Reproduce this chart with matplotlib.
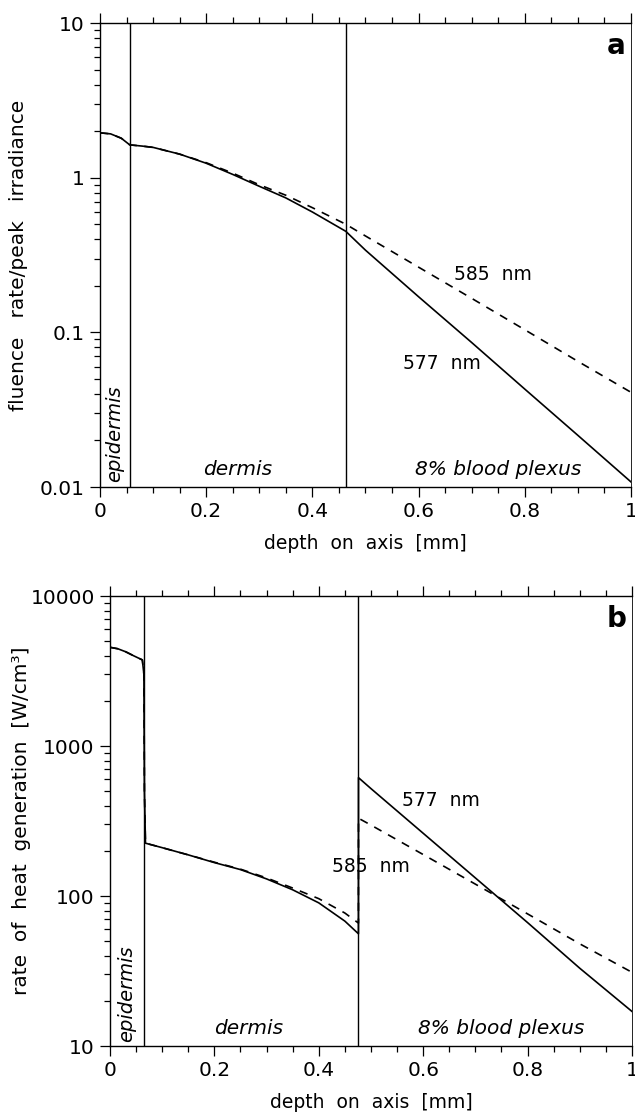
import numpy as np
import matplotlib
matplotlib.use('Agg')
import matplotlib.pyplot as plt
from matplotlib.ticker import MultipleLocator, LogLocator, NullFormatter

plt.rcParams['font.family'] = ['DejaVu Sans']
plt.rcParams['font.size'] = 14

# panel a: fluence rate / peak irradiance
depth_a = [0, 0.02, 0.04, 0.056, 0.08, 0.1, 0.15, 0.2, 0.25, 0.3, 0.35, 0.4, 0.463,
           0.5, 0.6, 0.7, 0.8, 0.9, 1.0]
fluence_577 = [1.95, 1.92, 1.80, 1.63, 1.60, 1.57, 1.42, 1.24, 1.05, 0.88, 0.74, 0.60, 0.45,
               0.34, 0.17, 0.086, 0.043, 0.0216, 0.0108]
fluence_585 = [1.95, 1.92, 1.80, 1.63, 1.60, 1.57, 1.42, 1.25, 1.07, 0.90, 0.77, 0.64, 0.50,
               0.42, 0.264, 0.166, 0.104, 0.065, 0.041]
layers_a = [0.056, 0.463]

# panel b: rate of heat generation
depth_b = [0, 0.015, 0.03, 0.045, 0.062, 0.065, 0.066, 0.068, 0.1, 0.15, 0.2, 0.25, 0.3,
           0.35, 0.4, 0.45, 0.476, 0.4761, 0.5, 0.6, 0.7, 0.8, 0.9, 1.0]
heat_577 = [4550, 4450, 4250, 4000, 3750, 3000, 500, 225, 210, 188, 167, 150, 130,
            110, 90, 68, 56, 615, 520, 262, 132, 66.5, 33, 17]
heat_585 = [4550, 4450, 4250, 4000, 3750, 3000, 500, 225, 210, 188, 168, 151, 132,
            113, 96, 77, 66, 330, 297, 189, 120, 76, 48, 31]
layers_b = [0.066, 0.476]

xticks = [0, 0.2, 0.4, 0.6, 0.8, 1]
xticklabels = ['0', '0.2', '0.4', '0.6', '0.8', '1']

fig = plt.figure(figsize=(6.35, 11.18), dpi=100)
ax1 = fig.add_axes([0.1575, 0.5644, 0.836, 0.415])
ax2 = fig.add_axes([0.1732, 0.0644, 0.822, 0.4025])


def style(ax):
    ax.set_xlim(0, 1)
    ax.set_yscale('log')
    ax.set_xticks(xticks, labels=xticklabels)
    ax.xaxis.set_minor_locator(MultipleLocator(0.05))
    ax.yaxis.set_minor_locator(LogLocator(base=10, subs=np.arange(2, 10)))
    ax.yaxis.set_minor_formatter(NullFormatter())
    ax.tick_params(which='both', direction='out', top=True, right=False, width=0.9)
    ax.tick_params(which='major', length=7, labelsize=14.5, pad=4)
    ax.tick_params(which='minor', length=4)
    ax.set_xlabel('depth  on  axis  [mm]', fontsize=13.5, labelpad=9)
    for s in ax.spines.values():
        s.set_linewidth(1.0)
    ax.spines['right'].set_linewidth(0.6)


# panel a
ax1.plot(depth_a, fluence_577, color='black', lw=1.2)
ax1.plot(depth_a, fluence_585, color='black', lw=1.2, ls=(0, (5, 4.5)))
for x in layers_a:
    ax1.axvline(x, color='black', lw=1.0)
style(ax1)
ax1.set_ylim(0.01, 10)
ax1.set_yticks([0.01, 0.1, 1, 10], labels=['0.01', '0.1', '1', '10'])
ax1.set_ylabel('fluence   rate/peak   irradiance', fontsize=14.5, va='center', rotation_mode='anchor')
ax1.yaxis.set_label_coords(-0.154, 0.5)
ax1.text(0.028, 0.0107, 'epidermis', rotation=90, style='italic', ha='center', va='bottom', fontsize=14)
ax1.text(0.26, 0.0113, 'dermis', style='italic', ha='center', va='bottom', fontsize=14.5)
ax1.text(0.75, 0.0113, '8% blood plexus', style='italic', ha='center', va='bottom', fontsize=14.5)
ax1.text(0.74, 0.235, '585  nm', ha='center', va='center', fontsize=13.5)
ax1.text(0.645, 0.0625, '577  nm', ha='center', va='center', fontsize=13.5)
ax1.text(0.99, 0.98, 'a', transform=ax1.transAxes, ha='right', va='top', fontsize=20, fontweight='bold')

# panel b
ax2.plot(depth_b, heat_577, color='black', lw=1.2)
ax2.plot(depth_b, heat_585, color='black', lw=1.2, ls=(0, (5, 4.5)))
for x in layers_b:
    ax2.axvline(x, color='black', lw=1.0)
style(ax2)
ax2.set_ylim(10, 10000)
ax2.set_yticks([10, 100, 1000, 10000], labels=['10', '100', '1000', '10000'])
ax2.set_ylabel('rate  of  heat  generation  [W/cm³]', fontsize=14.5, va='center', rotation_mode='anchor')
ax2.yaxis.set_label_coords(-0.169, 0.5)
ax2.text(0.031, 10.7, 'epidermis', rotation=90, style='italic', ha='center', va='bottom', fontsize=14)
ax2.text(0.265, 11.3, 'dermis', style='italic', ha='center', va='bottom', fontsize=14.5)
ax2.text(0.75, 11.3, '8% blood plexus', style='italic', ha='center', va='bottom', fontsize=14.5)
ax2.text(0.635, 436, '577  nm', ha='center', va='center', fontsize=13.5)
ax2.text(0.5, 157, '585  nm', ha='center', va='center', fontsize=13.5)
ax2.text(0.99, 0.98, 'b', transform=ax2.transAxes, ha='right', va='top', fontsize=20, fontweight='bold')

fig.savefig('out.png', dpi=100)
